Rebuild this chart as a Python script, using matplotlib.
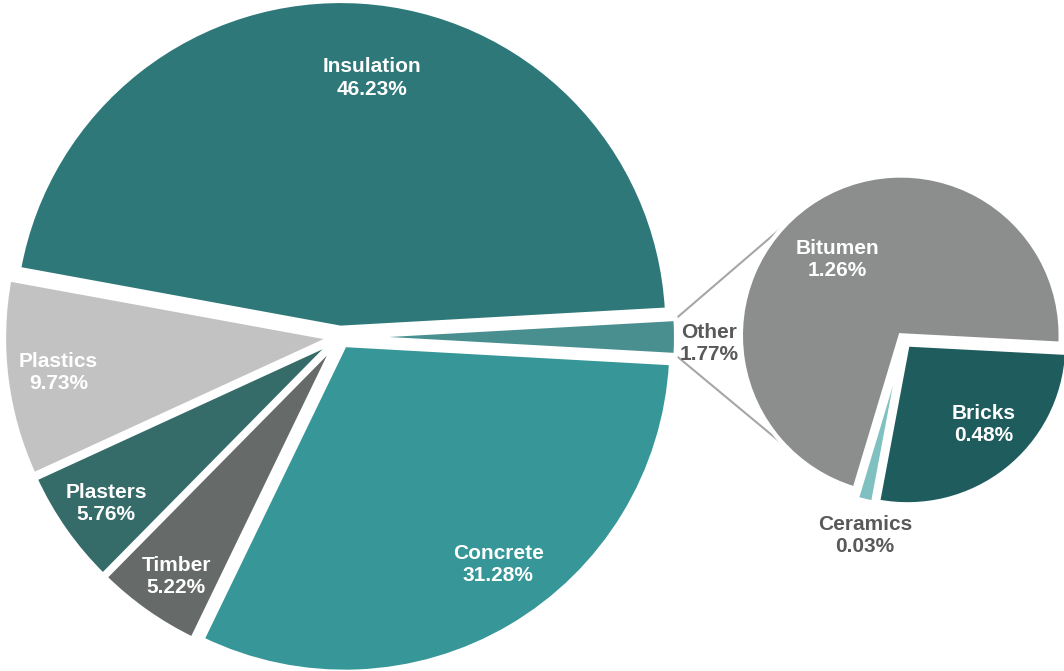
import matplotlib
matplotlib.use('Agg')
import matplotlib.pyplot as plt
import numpy as np
from matplotlib.patches import ConnectionPatch

plt.rcParams['font.family'] = ['Liberation Sans', 'DejaVu Sans']

# Main pie: counterclockwise from 3 o'clock
main_labels = ['Other', 'Insulation', 'Plastics', 'Plasters', 'Timber', 'Concrete']
main_values = [1.77, 46.23, 9.73, 5.76, 5.22, 31.28]
main_colors = ['#4A8F8F', '#2E7879', '#C1C2C1', '#356B69', '#666A68', '#379697']
# label placement: distance from wedge centre, angle shift from mid-angle
main_label_dist = [1.10, 0.77, 0.84, 0.85, 0.86, 0.82]
main_label_shift = [-1.0, -3.5, 0.0, 0.5, 0.9, 4.4]

# Breakdown of "Other"
sub_labels = ['Bitumen', 'Ceramics', 'Bricks']
sub_values = [1.26, 0.03, 0.48]
sub_colors = ['#8B8E8D', '#80C0C0', '#1F5C5D']
sub_label_dist = [0.62, 1.21, 0.69]
sub_label_shift = [4.8, 2.4, 5.2]

W, H = 1064, 671
fig = plt.figure(figsize=(W / 100, H / 100), dpi=100)


def add_pie_axes(cx, cy, r):
    """Axes where one data unit is r pixels, centred at (cx, cy) from top-left."""
    half = 1.2 * r
    return fig.add_axes([(cx - half) / W, (H - cy - half) / H,
                         2 * half / W, 2 * half / H])


def wedge_point(w, ang, rad=1.0):
    a = np.deg2rad(ang)
    return (w.center[0] + rad * w.r * np.cos(a),
            w.center[1] + rad * w.r * np.sin(a))


def draw_labels(axis, wedges, labels, values, dists, shifts, outside):
    for w, lab, val, dist, sh in zip(wedges, labels, values, dists, shifts):
        mid = (w.theta1 + w.theta2) / 2 + sh
        x, y = wedge_point(w, mid, dist)
        col = '#595959' if lab == outside else 'white'
        axis.text(x, y, f'{lab}\n{val:.2f}%', ha='center', va='center',
                  color=col, fontsize=15, fontweight='bold', linespacing=1.22)


# ---- main pie
ax = add_pie_axes(340, 337, 327)
ax.set_zorder(2)
start = -main_values[0] / 100 * 360 / 2
wedges, _ = ax.pie(main_values, colors=main_colors, startangle=start,
                   counterclock=True, explode=[0.028] * len(main_values),
                   wedgeprops=dict(edgecolor='white', linewidth=3.2))
ax.set_xlim(-1.2, 1.2)
ax.set_ylim(-1.2, 1.2)
ax.set_axis_off()
draw_labels(ax, wedges, main_labels, main_values, main_label_dist,
            main_label_shift, 'Other')

# ---- secondary pie
ax2 = add_pie_axes(904, 340, 160)
ax2.set_zorder(1)
wedges2, _ = ax2.pie(sub_values, colors=sub_colors, startangle=-3,
                     counterclock=True, explode=[0.035] * len(sub_values),
                     wedgeprops=dict(edgecolor='white', linewidth=3.2))
ax2.set_xlim(-1.2, 1.2)
ax2.set_ylim(-1.2, 1.2)
ax2.set_axis_off()
draw_labels(ax2, wedges2, sub_labels, sub_values, sub_label_dist,
            sub_label_shift, 'Ceramics')

# ---- connector lines from "Other" to the breakdown pie
other = wedges[0]
bit = wedges2[0]
for a_other, a_bit in [(other.theta2, 136), (other.theta1, 224)]:
    con = ConnectionPatch(xyA=wedge_point(other, a_other), coordsA=ax.transData,
                          xyB=wedge_point(bit, a_bit), coordsB=ax2.transData,
                          color='#A6A6A6', linewidth=1.5)
    fig.add_artist(con)

fig.savefig('out.png', dpi=100)
